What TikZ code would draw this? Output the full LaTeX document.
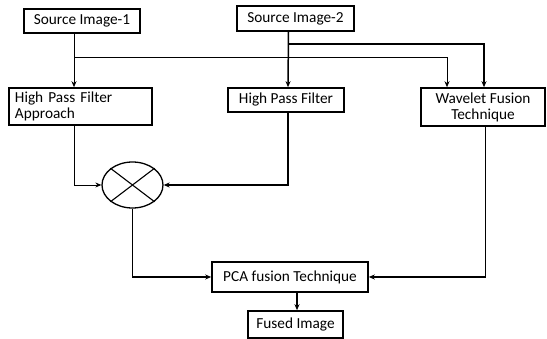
\documentclass[tikz,border=0pt]{standalone}
\usepackage{fontspec}
\setmainfont{Carlito}
\usetikzlibrary{arrows.meta,shapes.geometric}
\tikzset{%
    box/.style={%
        draw, line width=1.6pt, inner sep=0pt,
        font=\fontsize{15.3}{16}\selectfont
    },
    flow/.style={-{Stealth[length=6pt,width=5pt]}, line width=0.9pt},
    bold flow/.style={flow, line width=1.5pt}
}

\begin{document}
\begin{tikzpicture}[x=1pt,y=-1pt]
    \useasboundingbox (0,0) rectangle (547,339);
    % blocks
    \node[box, minimum width=116pt, minimum height=24pt] (src1) at (82,21) {Source Image-1};
    \node[box, minimum width=117pt, minimum height=25pt] (src2) at (295.5,18.5) {Source Image-2};
    \node[box, text width=131pt, inner xsep=6pt, minimum height=37pt, align=left] (hpfa) at (80.5,106.5) {High Pass Filter\\Approach};
    \node[box, minimum width=116pt, minimum height=24pt] (hpf) at (286,100) {High Pass Filter};
    \node[box, minimum width=124pt, minimum height=38pt, align=center] (wav) at (483,107) {Wavelet Fusion\\Technique};
    \node[draw, ellipse, line width=1.3pt, minimum width=61pt, minimum height=46pt, inner sep=0pt] (mult) at (132.5,185) {};
    \draw[line width=1.1pt] (mult.north west) -- (mult.south east);
    \draw[line width=1.1pt] (mult.north east) -- (mult.south west);
    \node[box, minimum width=156pt, minimum height=30pt] (pca) at (290,277) {PCA fusion Technique};
    \node[box, minimum width=95pt, minimum height=27pt] (fused) at (295.5,324.5) {Fused Image};
    % branch points
    \coordinate (j1) at (74,57);
    \coordinate (j2) at (288,44);
    % connectors
    \draw[flow] ([xshift=-8pt]src1.south) -- (j1 |- hpfa.north);
    \draw[flow] (j1) -| ([xshift=-36pt]wav.north);
    \draw[bold flow] ([xshift=-7pt]src2.south) -- (j2 |- hpf.north);
    \draw[bold flow] (j2) -| ([xshift=1pt]wav.north);
    \draw[flow] ([xshift=-6.5pt]hpfa.south) |- (mult.west);
    \draw[flow, line width=1.2pt] ([xshift=2pt]hpf.south) |- (mult.east);
    \draw[bold flow] (mult.south) |- (pca.west);
    \draw[bold flow] ([xshift=2.5pt]wav.south) |- (pca.east);
    \draw[bold flow] ([xshift=7pt]pca.south) -- ([xshift=7pt]pca.south |- fused.north);
\end{tikzpicture}
\end{document}
